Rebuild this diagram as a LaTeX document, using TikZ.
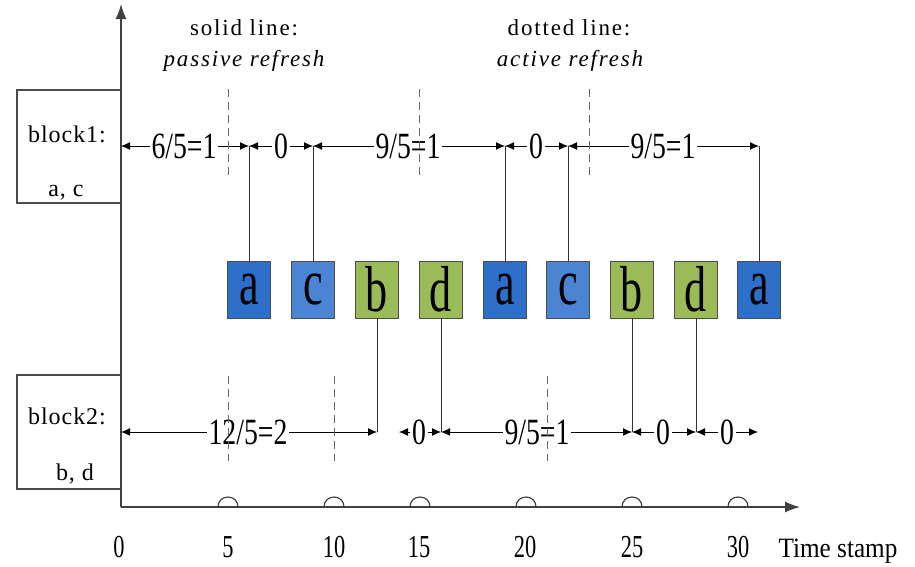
\documentclass[tikz,border=0pt]{standalone}
\usepackage{fontspec}
\setmainfont{Liberation Serif}
\newfontfamily\titlefont[LetterSpace=8]{Liberation Serif}
\newfontfamily\blockfont[LetterSpace=4]{Liberation Serif}
\newfontfamily\dimfont[FakeStretch=0.75]{Liberation Serif}
\newfontfamily\tickfont[FakeStretch=0.7]{Liberation Serif}
\newfontfamily\axisfont[FakeStretch=0.9]{Liberation Serif}
\newfontfamily\cellfont[FakeStretch=0.68]{Liberation Serif}
\usetikzlibrary{arrows.meta}

\definecolor{cellA}{RGB}{46,112,201}
\definecolor{cellC}{RGB}{74,132,211}
\definecolor{cellG}{RGB}{155,187,89}

\tikzset{
  cell/.style={draw=black!70, line width=0.9pt, minimum width=43pt, minimum height=57pt,
    inner sep=0pt, font=\cellfont\fontsize{65}{65}\selectfont},
  dim/.style={inner sep=1.5pt, font=\dimfont\fontsize{37}{37}\selectfont},
  dimline/.style={line width=1pt, black, -{Latex[length=9pt,width=8pt]}},
  link/.style={line width=1pt, black!80},
  guide/.style={dashed, dash pattern=on 8pt off 5pt, black!60, line width=0.9pt},
  axisline/.style={line width=1.4pt, black!75, -{Latex[length=15pt,width=11pt]}},
  bump/.style={line width=1.2pt, black!75},
  blockbox/.style={draw=black!70, line width=1.1pt, minimum width=104pt, inner sep=0pt},
  blocktext/.style={inner sep=0pt, font=\blockfont\fontsize{24}{24}\selectfont},
  titletext/.style={inner sep=0pt, font=\titlefont\fontsize{23}{23}\selectfont},
  ticktext/.style={inner sep=0pt, font=\tickfont\fontsize{32}{32}\selectfont},
  axistext/.style={inner sep=0pt, font=\axisfont\fontsize{28}{28}\selectfont},
}

\begin{document}
\begin{tikzpicture}[x=1pt, y=-1pt]
\useasboundingbox (0,0) rectangle (915,566);

% block boxes on the left of the time axis
\node[blockbox, minimum height=113pt] (blk1) at (69,146.5) {};
\node[blockbox, minimum height=114pt] (blk2) at (69,432) {};
\node[blocktext, anchor=base] (blk1name) at (67,142) {block1:};
\node[blocktext, anchor=base] (blk1set) at (66,196) {a, c};
\node[blocktext, anchor=base] (blk2name) at (67,424) {block2:};
\node[blocktext, anchor=base] (blk2set) at (75,480) {b, d};

% axes
\coordinate (O) at (121,507);
\coordinate (ytip) at (121,4);
\coordinate (xtip) at (800,507);
\draw[axisline] (O) -- (ytip);
\draw[axisline] (O) -- (xtip);

% small hops on the time axis
\foreach \x in {228,334,420,526,632,738}
  \draw[bump] (\x-10,507) .. controls (\x-10,493.7) and (\x+10,493.7) .. (\x+10,507);

% tick labels
\node[ticktext, anchor=base] (k0) at (119,557) {0};
\node[ticktext, anchor=base] (k5) at (228,557) {5};
\node[ticktext, anchor=base] (k10) at (334,557) {10};
\node[ticktext, anchor=base] (k15) at (419,557) {15};
\node[ticktext, anchor=base] (k20) at (525,557) {20};
\node[ticktext, anchor=base] (k25) at (632,557) {25};
\node[ticktext, anchor=base] (k30) at (738,557) {30};
\node[axistext, anchor=base] (tstamp) at (838,557) {Time stamp};

% legend titles
\node[titletext, anchor=base] (leg1) at (244,35) {solid line:};
\node[titletext, anchor=base] (leg2) at (244,66) {\itshape passive refresh};
\node[titletext, anchor=base] (leg3) at (569,35) {dotted line:};
\node[titletext, anchor=base] (leg4) at (570,66) {\itshape active refresh};

% access sequence
\node[cell, fill=cellA] (ca1) at (249,289.5) {a};
\node[cell, fill=cellC] (cc1) at (313,289.5) {c};
\node[cell, fill=cellG] (cb1) at (377,289.5) {b};
\node[cell, fill=cellG] (cd1) at (441,289.5) {d};
\node[cell, fill=cellA] (ca2) at (505,289.5) {a};
\node[cell, fill=cellC] (cc2) at (568,289.5) {c};
\node[cell, fill=cellG] (cb2) at (632,289.5) {b};
\node[cell, fill=cellG] (cd2) at (696,289.5) {d};
\node[cell, fill=cellA] (ca3) at (759,289.5) {a};

% rows of the two blocks
\coordinate (U) at (121,146);
\coordinate (L) at (121,432);
\coordinate (Lstart) at (399,432);
\coordinate (Lend) at (758,432);

\foreach \c in {ca1,cc1,ca2,cc2,ca3}
  \draw[link] (\c.north) -- (\c.north |- U);
\foreach \c in {cb1,cd1,cb2,cd2}
  \draw[link] (\c.south) -- (\c.south |- L);

% block1 intervals
\node[dim] (u1) at (184,146) {6/5=1};
\draw[dimline] (u1.west) -- (U);
\draw[dimline] (u1.east) -- (ca1 |- U);
\node[dim] (u2) at (281,146) {0};
\draw[dimline] (u2.west) -- (ca1 |- U);
\draw[dimline] (u2.east) -- (cc1 |- U);
\node[dim] (u3) at (408,146) {9/5=1};
\draw[dimline] (u3.west) -- (cc1 |- U);
\draw[dimline] (u3.east) -- (ca2 |- U);
\node[dim] (u4) at (536,146) {0};
\draw[dimline] (u4.west) -- (ca2 |- U);
\draw[dimline] (u4.east) -- (cc2 |- U);
\node[dim] (u5) at (663,146) {9/5=1};
\draw[dimline] (u5.west) -- (cc2 |- U);
\draw[dimline] (u5.east) -- (ca3 |- U);

% block2 intervals
\node[dim] (l1) at (248,432) {12/5=2};
\draw[dimline] (l1.west) -- (L);
\draw[dimline] (l1.east) -- (cb1 |- L);
\node[dim] (l2) at (419,432) {0};
\draw[dimline] (l2.west) -- (Lstart);
\draw[dimline] (l2.east) -- (cd1 |- L);
\node[dim] (l3) at (537,432) {9/5=1};
\draw[dimline] (l3.west) -- (cd1 |- L);
\draw[dimline] (l3.east) -- (cb2 |- L);
\node[dim] (l4) at (663,432) {0};
\draw[dimline] (l4.west) -- (cb2 |- L);
\draw[dimline] (l4.east) -- (cd2 |- L);
\node[dim] (l5) at (727,432) {0};
\draw[dimline] (l5.west) -- (cd2 |- L);
\draw[dimline] (l5.east) -- (Lend);

% refresh marks
\foreach \x in {228,419,589}
  \draw[guide] (\x,89) -- (\x,175);
\foreach \x in {228,334,547}
  \draw[guide] (\x,376) -- (\x,461);
\end{tikzpicture}
\end{document}
